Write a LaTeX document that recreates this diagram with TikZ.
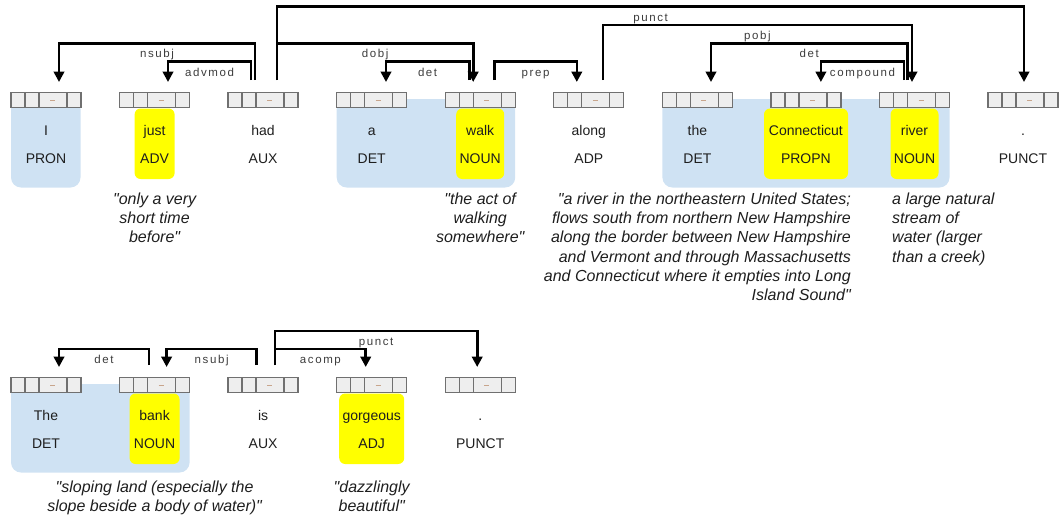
\documentclass[tikz,border=0pt]{standalone}
\usepackage{fontspec}
\setmainfont{Liberation Sans}
\newfontfamily\lblfont[LetterSpace=14]{Liberation Sans}
\newfontfamily\glossfont[Ligatures=TeXOff]{Liberation Sans}
\usetikzlibrary{arrows.meta,calc}
\definecolor{bgblue}{RGB}{207,226,243}
\definecolor{hlyellow}{RGB}{255,255,0}
\definecolor{cellfill}{RGB}{238,238,238}
\definecolor{cellline}{RGB}{112,112,112}
\definecolor{dashcol}{RGB}{200,165,140}
\definecolor{txt}{RGB}{30,30,30}
\definecolor{lbl}{RGB}{60,60,60}
\tikzset{
  tokbox/.style={draw=cellline, line width=1.3pt, fill=cellfill, minimum width=70pt, minimum height=15pt, inner sep=0pt, outer sep=0pt},
  celldiv/.style={draw=cellline, line width=1.3pt},
  celldash/.style={draw=dashcol, line width=0.9pt},
  wordtxt/.style={font=\fontsize{14}{16}\selectfont, text=txt, anchor=base, inner sep=0pt},
  deplbl/.style={font=\lblfont\fontsize{11.5}{13}\selectfont, text=lbl, anchor=base, inner sep=0pt},
  gloss/.style={font=\glossfont\itshape\fontsize{16}{19.3}\selectfont, text=txt, inner sep=0pt},
  dep/.style={draw=black, line width=2.6pt, -{Triangle[width=10.5pt,length=10.5pt]}},
  grp/.style={fill=bgblue, rounded corners=10pt},
  hl/.style={fill=hlyellow, rounded corners=6pt},
}
% token: name, left x, top y, word, pos
\newcommand\deptok[5]{%
  \node[tokbox, anchor=north west] (#1) at (#2,#3) {};
  \draw[celldiv] ([xshift=14pt]#1.north west) -- ([xshift=14pt]#1.south west)
                 ([xshift=28pt]#1.north west) -- ([xshift=28pt]#1.south west)
                 ([xshift=56pt]#1.north west) -- ([xshift=56pt]#1.south west);
  \draw[celldash] ([xshift=4pt]#1.center) -- ([xshift=9pt]#1.center);
  \node[wordtxt] (#1w) at ($(#1.north)+(0,42.5)$) {#4};
  \node[wordtxt] (#1p) at ($(#1.north)+(0,70.5)$) {#5};
}
% arc: from, dx, to, dx, level y, label
\newcommand\deparc[6]{%
  \draw[dep] ([xshift=#2pt,yshift=12.5pt]#1.north) -- ([xshift=#2pt]#1.north |- 0,#5)
     -| node[deplbl, pos=0.25, yshift=-14.5pt] {#6} ([xshift=#4pt,yshift=10.5pt]#3.north);
}
\begin{document}
\begin{tikzpicture}[x=1pt,y=-1pt]
\useasboundingbox (0,0) rectangle (1060,517);
% groups (row 1)
\fill[grp] (11,99) rectangle (80.5,187.5);
\fill[grp] (336.7,99) rectangle (515.2,187.5);
\fill[grp] (662.4,99) rectangle (949.5,187.5);
% groups (row 2)
\fill[grp] (11,384) rectangle (189.6,472.5);
% highlights
\fill[hl] (134.6,108.5) rectangle (174.6,179);
\fill[hl] (456.2,108.5) rectangle (504.2,179);
\fill[hl] (764,108.5) rectangle (848,179);
\fill[hl] (890.5,108.5) rectangle (938.5,179);
\fill[hl] (129.6,393.5) rectangle (179.6,464);
\fill[hl] (339.2,393.5) rectangle (404.2,464);
% row 1 tokens
\deptok{tI}{11}{92.5}{I}{PRON}
\deptok{tjust}{119.6}{92.5}{just}{ADV}
\deptok{thad}{228.1}{92.5}{had}{AUX}
\deptok{ta}{336.7}{92.5}{a}{DET}
\deptok{twalk}{445.2}{92.5}{walk}{NOUN}
\deptok{talong}{553.8}{92.5}{along}{ADP}
\deptok{tthe}{662.4}{92.5}{the}{DET}
\deptok{tconn}{770.9}{92.5}{Connecticut}{PROPN}
\deptok{triver}{879.5}{92.5}{river}{NOUN}
\deptok{tdot}{988}{92.5}{.}{PUNCT}
% row 2 tokens
\deptok{uthe}{11}{377.5}{The}{DET}
\deptok{ubank}{119.6}{377.5}{bank}{NOUN}
\deptok{uis}{228.1}{377.5}{is}{AUX}
\deptok{ugorg}{336.7}{377.5}{gorgeous}{ADJ}
\deptok{udot}{445.2}{377.5}{.}{PUNCT}
% row 1 arcs
\deparc{thad}{-8}{tI}{13}{43.3}{nsubj}
\deparc{thad}{-12}{tjust}{13.4}{61.7}{advmod}
\deparc{thad}{14}{twalk}{-7}{43.3}{dobj}
\deparc{thad}{14}{tdot}{1}{6.7}{punct}
\deparc{twalk}{-11}{ta}{14.3}{61.7}{det}
\deparc{twalk}{14}{talong}{-12}{61.7}{prep}
\deparc{talong}{14}{triver}{-2.5}{25}{pobj}
\deparc{triver}{-7}{tthe}{13.6}{43.3}{det}
\deparc{triver}{-10.5}{tconn}{15}{61.7}{compound}
% row 2 arcs
\deparc{ubank}{-5.6}{uthe}{13}{349}{det}
\deparc{uis}{-6.4}{ubank}{12}{349}{nsubj}
\deparc{uis}{12}{ugorg}{-6}{349}{acomp}
\deparc{uis}{12}{udot}{-3}{331}{punct}
% glosses
\node[gloss, align=center, anchor=north] (gjust) at (154.6,192.5) {"only a very\\short time\\before"};
\node[gloss, align=center, anchor=north] (gwalk) at (480.2,192.5) {"the act of\\walking\\somewhere"};
\node[gloss, align=right, anchor=north east] (gconn) at (851,192.5) {"a river in the northeastern United States;\\flows south from northern New Hampshire\\along the border between New Hampshire\\and Vermont and through Massachusetts\\and Connecticut where it empties into Long\\Island Sound"};
\node[gloss, align=left, anchor=north west] (griver) at (892,192.5) {a large natural\\stream of\\water (larger\\than a creek)};
\node[gloss, align=center, anchor=north] (gbank) at (154.6,480.5) {"sloping land (especially the\\slope beside a body of water)"};
\node[gloss, align=center, anchor=north] (ggorg) at (371.7,480.5) {"dazzlingly\\beautiful"};
\end{tikzpicture}
\end{document}
